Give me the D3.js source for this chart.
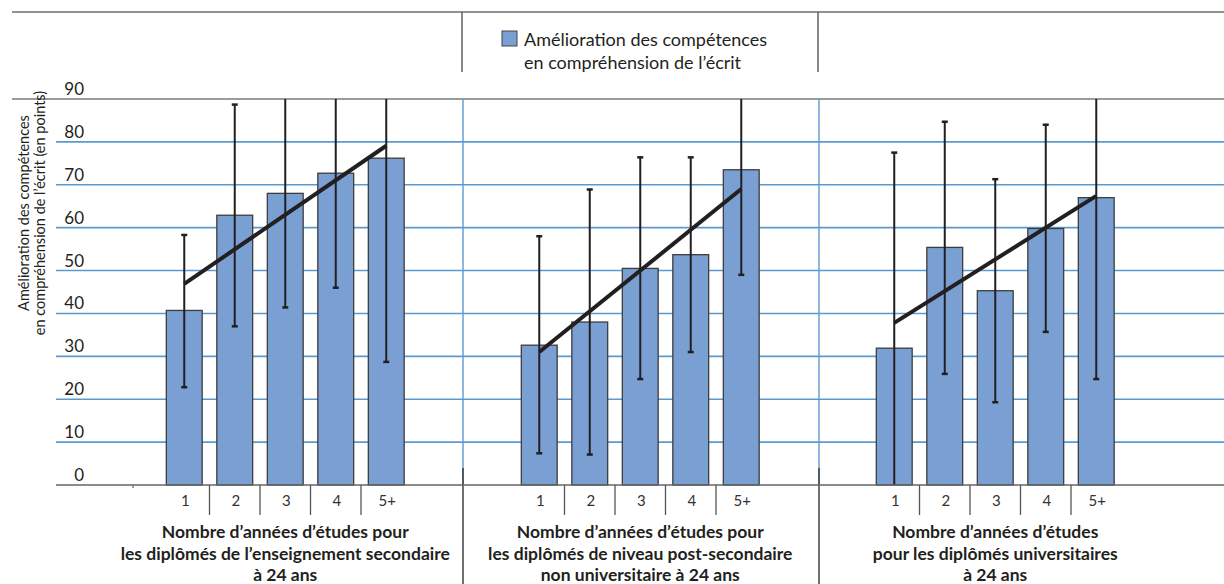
<!DOCTYPE html>
<html>
<head>
<meta charset="utf-8">
<script src="https://cdn.jsdelivr.net/npm/d3@7"></script>
<style>
    body { margin: 0; background: #fff; }
    svg { display: block; font-family: Lato, "Open Sans", sans-serif; }
</style>
</head>
<body>
<div id="chart"></div>
<script>
// Categories (years of study) shared by each panel
var categories = ["1", "2", "3", "4", "5+"];

// Panel titles, one line per entry
var groupTitles = [
    ["Nombre d\u2019années d\u2019études pour", "les diplômés de l\u2019enseignement secondaire", "à 24 ans"],
    ["Nombre d\u2019années d\u2019études pour", "les diplômés de niveau post-secondaire", "non universitaire à 24 ans"],
    ["Nombre d\u2019années d\u2019études", "pour les diplômés universitaires", "à 24 ans"]
];

// Improvement in reading skills (points), one array per panel
var improvement = [
    [40.7, 62.9, 68.0, 72.7, 76.2],
    [32.6, 38.0, 50.5, 53.7, 73.5],
    [31.9, 55.4, 45.3, 59.8, 67.0]
];

// Confidence interval bounds
var ciLow = [
    [22.8, 37.0, 41.4, 46.0, 28.7],
    [7.4, 7.1, 24.7, 31.0, 49.0],
    [0.0, 25.9, 19.3, 35.7, 24.7]
];
var ciHigh = [
    [58.3, 88.7, 96.0, 97.0, 104.0],
    [58.0, 68.9, 76.4, 76.4, 98.0],
    [77.5, 84.7, 71.3, 84.0, 98.0]
];

// Trend line values at first and last category
var trendStart = [46.9, 31.0, 37.8];
var trendEnd = [79.1, 69.0, 67.4];

// Y axis ticks
var yTicks = [0, 10, 20, 30, 40, 50, 60, 70, 80, 90];

var legendLabel = ["Amélioration des compétences", "en compréhension de l\u2019écrit"];
var yTitle = ["Amélioration des compétences", "en compréhension de l\u2019écrit (en points)"];

// Size
var width = 1224;
var height = 584;
var textColor = "#231f20";
var gridColor = "#5b9ad0";

var svg = d3.select("#chart")
            .append("svg")
            .attr("width", width)
            .attr("height", height);

// Y scale
var yScale = d3.scaleLinear()
                .domain([0, 90])
                .range([485, 99]);

// Panel geometry
var panelStart = 159;
var panelStep = 355;
var panelWidth = 252.5;
var dividers = [462, 818];

// Gridlines (10..80 in blue)
svg.selectAll(".grid")
    .data(yTicks.filter(function(d) { return d > 0 && d < 90; }))
    .enter()
    .append("line")
        .attr("class", "grid")
        .attr("x1", 56)
        .attr("x2", width)
        .attr("y1", function(d) { return yScale(d); })
        .attr("y2", function(d) { return yScale(d); })
        .attr("stroke", gridColor)
        .attr("stroke-width", 1.6);

// Top frame line and 90 line
svg.append("line")
    .attr("x1", 12).attr("x2", width)
    .attr("y1", 12).attr("y2", 12)
    .attr("stroke", "#6d6d6d").attr("stroke-width", 1.6);
svg.append("line")
    .attr("x1", 12).attr("x2", width)
    .attr("y1", yScale(90)).attr("y2", yScale(90))
    .attr("stroke", "#7a7a7a").attr("stroke-width", 1.6);

// Panel dividers
dividers.forEach(function(x) {
    svg.append("line")
        .attr("x1", x).attr("x2", x)
        .attr("y1", 12).attr("y2", 72)
        .attr("stroke", "#555").attr("stroke-width", 1.4);
    svg.append("line")
        .attr("x1", x + 1).attr("x2", x + 1)
        .attr("y1", yScale(90)).attr("y2", yScale(0))
        .attr("stroke", gridColor).attr("stroke-width", 1.4);
    svg.append("line")
        .attr("x1", x + 1).attr("x2", x + 1)
        .attr("y1", 468).attr("y2", height)
        .attr("stroke", "#333").attr("stroke-width", 1.4);
});

// Y tick labels
svg.selectAll(".ylabel")
    .data(yTicks)
    .enter()
    .append("text")
        .attr("class", "ylabel")
        .attr("x", 84)
        .attr("y", function(d) { return yScale(d) - 10; })
        .attr("dy", "0.35em")
        .attr("text-anchor", "end")
        .attr("font-size", "17px")
        .attr("fill", textColor)
        .text(function(d) { return d; });

// Y axis title
svg.append("text")
    .attr("transform", "translate(24,213) rotate(-90)")
    .attr("text-anchor", "middle")
    .attr("font-size", "14.5px")
    .attr("fill", textColor)
    .selectAll("tspan")
    .data(yTitle)
    .enter()
    .append("tspan")
        .attr("x", 0)
        .attr("dy", function(d, i) { return i === 0 ? "0.35em" : "1.1em"; })
        .text(function(d) { return d; });

// Legend
svg.append("rect")
    .attr("x", 502).attr("y", 31)
    .attr("width", 15).attr("height", 15)
    .attr("fill", "#7a9fd3")
    .attr("stroke", "#444").attr("stroke-width", 1);
svg.append("text")
    .attr("font-size", "18px")
    .attr("fill", textColor)
    .selectAll("tspan")
    .data(legendLabel)
    .enter()
    .append("tspan")
        .attr("x", 524)
        .attr("y", function(d, i) { return 46 + i * 23; })
        .text(function(d) { return d; });

// Each panel
groupTitles.forEach(function(title, p) {

    var x0 = panelStart + p * panelStep;
    var xScale = d3.scaleBand()
                    .domain(categories)
                    .range([x0, x0 + panelWidth])
                    .paddingInner(0.29)
                    .paddingOuter(0.145);
    var bw = xScale.bandwidth();
    var gap = xScale.step() - bw;

    var g = svg.append("g").attr("class", "panel");

    // Bars
    g.selectAll("rect")
        .data(improvement[p])
        .enter()
        .append("rect")
            .attr("x", function(d, i) { return xScale(categories[i]); })
            .attr("y", function(d) { return yScale(d); })
            .attr("width", bw)
            .attr("height", function(d) { return yScale(0) - yScale(d); })
            .attr("fill", "#7a9fd3")
            .attr("stroke", "#3d3d3d")
            .attr("stroke-width", 1.3);

    // Error bars, clipped to the 0-90 range
    var clampY = function(v) { return yScale(Math.max(0, Math.min(90, v))); };
    categories.forEach(function(c, i) {
        var cx = xScale(c) + bw / 2;
        g.append("line")
            .attr("x1", cx).attr("x2", cx)
            .attr("y1", clampY(ciLow[p][i]))
            .attr("y2", clampY(ciHigh[p][i]))
            .attr("stroke", textColor).attr("stroke-width", 2);
        [ciLow[p][i], ciHigh[p][i]].forEach(function(v) {
            if (v > 0 && v < 90) {
                g.append("line")
                    .attr("x1", cx - 3).attr("x2", cx + 3)
                    .attr("y1", yScale(v)).attr("y2", yScale(v))
                    .attr("stroke", textColor).attr("stroke-width", 2.5);
            }
        });
    });

    // Trend line
    g.append("line")
        .attr("x1", xScale(categories[0]) + bw / 2)
        .attr("x2", xScale(categories[categories.length - 1]) + bw / 2)
        .attr("y1", yScale(trendStart[p]))
        .attr("y2", yScale(trendEnd[p]))
        .attr("stroke", textColor)
        .attr("stroke-width", 4);

    // Category separators
    categories.slice(0, -1).forEach(function(c) {
        var tx = xScale(c) + bw + gap / 2;
        g.append("line")
            .attr("x1", tx).attr("x2", tx)
            .attr("y1", yScale(0)).attr("y2", 515)
            .attr("stroke", "#555").attr("stroke-width", 1.3);
    });

    // Category labels
    g.selectAll(".cat")
        .data(categories)
        .enter()
        .append("text")
            .attr("class", "cat")
            .attr("x", function(d) { return xScale(d) + bw / 2 + 1; })
            .attr("y", 501)
            .attr("dy", "0.35em")
            .attr("text-anchor", "middle")
            .attr("font-size", "15px")
            .attr("fill", "#333")
            .text(function(d) { return d; });

    // Panel title
    g.append("text")
        .attr("text-anchor", "middle")
        .attr("font-size", "17.5px")
        .attr("font-weight", "bold")
        .attr("fill", textColor)
        .selectAll("tspan")
        .data(title)
        .enter()
        .append("tspan")
            .attr("x", x0 + panelWidth / 2)
            .attr("y", function(d, i) { return 532 + i * 21.5; })
            .attr("dy", "0.35em")
            .text(function(d) { return d; });
});

// Baseline
svg.append("line")
    .attr("x1", 56).attr("x2", width)
    .attr("y1", yScale(0)).attr("y2", yScale(0))
    .attr("stroke", "#666").attr("stroke-width", 1.6);
svg.append("line")
    .attr("x1", 133).attr("x2", 133)
    .attr("y1", yScale(0)).attr("y2", yScale(0) + 3)
    .attr("stroke", "#666").attr("stroke-width", 1.2);
</script>
</body>
</html>
